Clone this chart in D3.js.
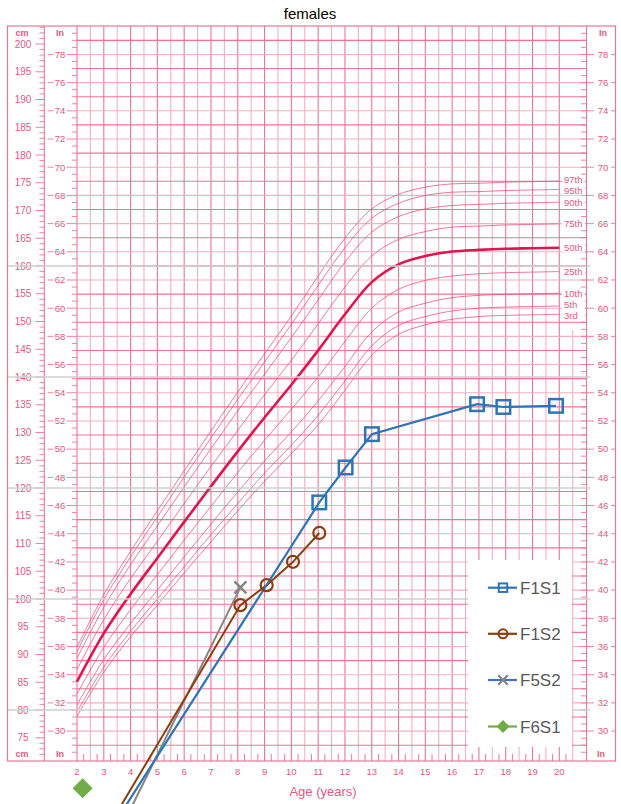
<!DOCTYPE html>
<html>
<head>
<meta charset="utf-8">
<script src="https://cdn.jsdelivr.net/npm/d3@7"></script>
<style>
  body { margin: 0; background: #fff; }
  svg { display: block; }
  text { font-family: "Liberation Sans", Arial, sans-serif; }
</style>
</head>
<body>
<svg id="chart" width="621" height="804"></svg>
<script>
// ---- Stature-for-age percentiles, girls 2 to 20 years (cm) ----
const ages = [2, 3, 4, 5, 6, 7, 8, 9, 10, 11, 12, 13, 14, 15, 16, 17, 18, 19, 20];
const p3  = [78.9, 86.8, 93.2, 98.9, 104.7, 110.3, 115.9, 121.2, 126.2, 131.4, 137.6, 143.9, 147.7, 149.4, 150.4, 150.9, 151.1, 151.2, 151.3];
const p5  = [79.7, 87.7, 94.2, 100.0, 105.8, 111.6, 117.2, 122.7, 127.7, 133.1, 139.3, 145.6, 149.3, 150.9, 151.9, 152.4, 152.6, 152.7, 152.8];
const p10 = [80.9, 89.1, 95.6, 101.6, 107.6, 113.5, 119.3, 124.9, 130.1, 135.7, 141.9, 148.1, 151.7, 153.3, 154.3, 154.7, 154.9, 155.0, 155.1];
const p25 = [82.9, 91.3, 98.1, 104.4, 110.6, 116.7, 122.8, 128.6, 134.2, 140.0, 146.4, 152.4, 155.8, 157.4, 158.2, 158.6, 158.8, 158.9, 159.0];
const p50 = [85.1, 93.8, 100.9, 107.4, 113.9, 120.3, 126.6, 132.7, 138.6, 144.8, 151.3, 157.1, 160.3, 161.8, 162.6, 162.9, 163.1, 163.2, 163.3];
const p75 = [87.3, 96.3, 103.7, 110.4, 117.2, 123.9, 130.4, 136.8, 143.0, 149.6, 156.2, 161.8, 164.8, 166.2, 167.0, 167.2, 167.4, 167.5, 167.6];
const p90 = [89.3, 98.5, 106.2, 113.2, 120.2, 127.1, 133.9, 140.5, 147.1, 153.9, 160.7, 166.1, 168.9, 170.3, 170.9, 171.1, 171.3, 171.4, 171.5];
const p95 = [90.5, 99.9, 107.6, 114.8, 122.0, 129.0, 136.0, 142.7, 149.5, 156.5, 163.3, 168.6, 171.3, 172.7, 173.3, 173.4, 173.6, 173.7, 173.8];
const p97 = [91.3, 100.8, 108.6, 115.9, 123.1, 130.3, 137.3, 144.2, 151.0, 158.2, 165.0, 170.3, 172.9, 174.2, 174.8, 174.9, 175.1, 175.2, 175.3];
const percentileNames = ["3rd", "5th", "10th", "25th", "50th", "75th", "90th", "95th", "97th"];
const percentileSeries = [p3, p5, p10, p25, p50, p75, p90, p95, p97];

// ---- Axis tick labels ----
const ageLabels = [2, 3, 4, 5, 6, 7, 8, 9, 10, 11, 12, 13, 14, 15, 16, 17, 18, 19, 20];
const cmLabels = [75, 80, 85, 90, 95, 100, 105, 110, 115, 120, 125, 130, 135, 140, 145, 150, 155, 160, 165, 170, 175, 180, 185, 190, 195, 200];
const inLabels = [30, 32, 34, 36, 38, 40, 42, 44, 46, 48, 50, 52, 54, 56, 58, 60, 62, 64, 66, 68, 70, 72, 74, 76, 78];
const gridCmLines = [80, 100, 120, 140, 160];

// ---- Measured heights (age in years, height in cm) ----
const f1s1Age = [3, 11, 12, 13, 17, 18, 20];
const f1s1Cm  = [58.0, 117.4, 123.7, 129.7, 135.1, 134.6, 134.8];
const f1s2Age = [3, 8, 9, 10, 11];
const f1s2Cm  = [59.1, 98.9, 102.5, 106.7, 111.9];
const f5s2Age = [3, 8];
const f5s2Cm  = [54.3, 102.1];
const f6s1Age = [2];
const f6s1Cm  = [65.9];

const seriesNames = ["F1S1", "F1S2", "F5S2", "F6S1"];

// ---- Scales ----
const svg = d3.select("#chart");
const yCm = d3.scaleLinear().domain([200, 75]).range([44, 737.75]);
const yIn = v => yCm(v * 2.54);
const xAge = d3.scaleLinear().domain([2, 20]).range([77, 559.3]);
const xData = d3.scaleLinear().domain([2, 20]).range([82.6, 556]);

const PINK_D = "#ef7596";
const PINK_L = "#f6afc1";
const LABEL = "#e4587e";
const gridTop = 26, gridBottom = 761, axisR = 586.5;

svg.append("rect").attr("width", 621).attr("height", 804).attr("fill", "#fff");

// ---- Background grid ----
const grid = svg.append("g");
const halfYears = d3.range(2, 20.51, 0.5);
grid.selectAll("line.v").data(halfYears).join("line")
  .attr("x1", d => xAge(d)).attr("x2", d => xAge(d))
  .attr("y1", d => d > 20 ? 330 : gridTop).attr("y2", gridBottom)
  .attr("stroke", d => Number.isInteger(d) ? PINK_D : PINK_L)
  .attr("stroke-width", 1.1);

const inchLines = d3.range(29, 80);
grid.selectAll("line.h").data(inchLines).join("line")
  .attr("x1", xAge(2)).attr("x2", axisR)
  .attr("y1", d => yIn(d)).attr("y2", d => yIn(d))
  .attr("stroke", d => d % 2 ? PINK_D : PINK_L)
  .attr("stroke-width", 1.1);

// quarter-year ticks along the bottom
grid.selectAll("line.q").data(d3.range(2.25, 20.5, 0.5)).join("line")
  .attr("x1", d => xAge(d)).attr("x2", d => xAge(d))
  .attr("y1", 754).attr("y2", gridBottom)
  .attr("stroke", PINK_D).attr("stroke-width", 1);

// ---- Left cm axis ----
const left = svg.append("g");
left.append("line").attr("x1", 44.3).attr("x2", 44.3).attr("y1", gridTop).attr("y2", gridBottom)
  .attr("stroke", PINK_D).attr("stroke-width", 1.1);
left.selectAll("line.cm").data(d3.range(72, 204)).join("line")
  .attr("x1", d => d % 5 === 0 ? 35.5 : 39.5).attr("x2", 44.3)
  .attr("y1", d => yCm(d)).attr("y2", d => yCm(d))
  .attr("stroke", PINK_D).attr("stroke-width", 0.9);
left.selectAll("text.cm").data(cmLabels).join("text")
  .attr("x", 23).attr("y", d => yCm(d)).attr("dy", "0.35em")
  .attr("text-anchor", "middle").attr("font-size", 10).attr("fill", LABEL)
  .text(d => d);

// inch column next to it
left.selectAll("line.hin").data(d3.range(28.5, 80, 0.5)).join("line")
  .attr("x1", 72).attr("x2", 77)
  .attr("y1", d => yIn(d)).attr("y2", d => yIn(d))
  .attr("stroke", PINK_D).attr("stroke-width", 0.9);
inLabels.forEach(v => {
  left.append("line").attr("x1", 47.5).attr("x2", 53.5).attr("y1", yIn(v)).attr("y2", yIn(v))
    .attr("stroke", PINK_D).attr("stroke-width", 0.9);
  left.append("line").attr("x1", 66.5).attr("x2", 72).attr("y1", yIn(v)).attr("y2", yIn(v))
    .attr("stroke", PINK_D).attr("stroke-width", 0.9);
});
left.selectAll("text.in").data(inLabels).join("text")
  .attr("x", 60).attr("y", d => yIn(d)).attr("dy", "0.35em")
  .attr("text-anchor", "middle").attr("font-size", 9.5).attr("fill", LABEL)
  .text(d => d);

// ---- Right inch axis ----
const right = svg.append("g");
right.append("line").attr("x1", axisR).attr("x2", axisR).attr("y1", gridTop).attr("y2", gridBottom)
  .attr("stroke", PINK_D).attr("stroke-width", 1.1);
right.selectAll("line.hin").data(d3.range(28.5, 80, 0.5)).join("line")
  .attr("x1", 581).attr("x2", axisR)
  .attr("y1", d => yIn(d)).attr("y2", d => yIn(d))
  .attr("stroke", PINK_D).attr("stroke-width", 0.9);
inLabels.forEach(v => {
  right.append("line").attr("x1", axisR).attr("x2", 594).attr("y1", yIn(v)).attr("y2", yIn(v))
    .attr("stroke", PINK_D).attr("stroke-width", 0.9);
  right.append("line").attr("x1", 611).attr("x2", 615.5).attr("y1", yIn(v)).attr("y2", yIn(v))
    .attr("stroke", PINK_D).attr("stroke-width", 0.9);
});
right.selectAll("text.in").data(inLabels).join("text")
  .attr("x", 603).attr("y", d => yIn(d)).attr("dy", "0.35em")
  .attr("text-anchor", "middle").attr("font-size", 9.5).attr("fill", LABEL)
  .text(d => d);

// unit captions
[["cm", 22, 33], ["In", 60, 33], ["In", 603, 33], ["cm", 22, 754], ["In", 60, 754], ["In", 601, 754]]
  .forEach(([t, x, y]) => svg.append("text").attr("x", x).attr("y", y).attr("dy", "0.35em")
    .attr("text-anchor", "middle").attr("font-size", 9).attr("font-weight", "bold")
    .attr("fill", LABEL).text(t));

// ---- Age axis labels ----
svg.selectAll("text.age").data(ageLabels).join("text")
  .attr("x", d => xAge(d)).attr("y", 772).attr("dy", "0.35em")
  .attr("text-anchor", "middle").attr("font-size", 9.5).attr("fill", LABEL)
  .text(d => d);
svg.append("text").attr("x", 323).attr("y", 791).attr("dy", "0.35em")
  .attr("text-anchor", "middle").attr("font-size", 13).attr("fill", LABEL)
  .text("Age (years)");

// ---- Percentile curves ----
const curve = d3.line().x((d, i) => xAge(ages[i])).y(d => yCm(d)).curve(d3.curveCatmullRom.alpha(0.5));
const pct = svg.append("g");
percentileSeries.forEach((s, k) => {
  const main = percentileNames[k] === "50th";
  pct.append("path").attr("d", curve(s)).attr("fill", "none")
    .attr("stroke", main ? "#e0144f" : "#e54673")
    .attr("stroke-opacity", main ? 1 : 0.8)
    .attr("stroke-width", main ? 2.6 : 0.9);
});

// end labels, spread apart where the curves run close together
const labelPos = percentileSeries.map(s => yCm(s[s.length - 1]));
for (let pass = 0; pass < 20; pass++) {
  for (let k = 1; k < labelPos.length; k++) {
    const gap = labelPos[k - 1] - labelPos[k];
    if (gap < 10.8) {
      const push = (10.8 - gap) / 2;
      labelPos[k - 1] += push;
      labelPos[k] -= push;
    }
  }
}
percentileNames.forEach((name, k) => {
  const y = labelPos[k];
  pct.append("rect").attr("x", 562).attr("y", y - 4.6).attr("width", 23).attr("height", 9.2).attr("fill", "#fff");
  pct.append("text").attr("x", 564).attr("y", y).attr("dy", "0.35em")
    .attr("font-size", 9.5).attr("fill", LABEL).text(name);
});

// ---- Frame ----
svg.append("rect").attr("x", 7.5).attr("y", gridTop).attr("width", 608).attr("height", gridBottom - gridTop)
  .attr("fill", "none").attr("stroke", PINK_D).attr("stroke-width", 1.2);

// ---- Overlay gridlines ----
svg.selectAll("line.xl").data(gridCmLines).join("line")
  .attr("x1", 8).attr("x2", 590)
  .attr("y1", d => yCm(d)).attr("y2", d => yCm(d))
  .attr("stroke", "#cfcfcf").attr("stroke-width", 1.3);

// ---- Measured series ----
const dataLine = d3.line().x(d => xData(d[0])).y(d => yCm(d[1]));
const zip = (a, b) => a.map((v, i) => [v, b[i]]);
const s1 = zip(f1s1Age, f1s1Cm), s2 = zip(f1s2Age, f1s2Cm), s3 = zip(f5s2Age, f5s2Cm), s4 = zip(f6s1Age, f6s1Cm);
const BLUE = "#2e75b6", BROWN = "#8a3f0f", GREY = "#858585", GREEN = "#70ad47", BLUE2 = "#4472c4";

const data = svg.append("g");
data.append("path").attr("d", dataLine(s3)).attr("fill", "none").attr("stroke", GREY).attr("stroke-width", 2);
data.append("path").attr("d", dataLine(s2)).attr("fill", "none").attr("stroke", BROWN).attr("stroke-width", 2);
data.append("path").attr("d", dataLine(s1)).attr("fill", "none").attr("stroke", BLUE).attr("stroke-width", 2.2);

function square(g, x, y, s, sw) {
  g.append("rect").attr("x", x - s / 2).attr("y", y - s / 2).attr("width", s).attr("height", s)
    .attr("fill", "none").attr("stroke", BLUE).attr("stroke-width", sw);
}
function ring(g, x, y, r, sw) {
  g.append("circle").attr("cx", x).attr("cy", y).attr("r", r)
    .attr("fill", "none").attr("stroke", BROWN).attr("stroke-width", sw);
}
function cross(g, x, y, h, sw) {
  g.append("path").attr("d", `M${x - h},${y - h}L${x + h},${y + h}M${x - h},${y + h}L${x + h},${y - h}`)
    .attr("stroke", GREY).attr("stroke-width", sw).attr("fill", "none");
}
function diamond(g, x, y, h) {
  g.append("path").attr("d", `M${x},${y - h}L${x + h},${y}L${x},${y + h}L${x - h},${y}Z`).attr("fill", GREEN);
}
s1.forEach(d => square(data, xData(d[0]), yCm(d[1]), 13.5, 2.5));
s2.forEach(d => ring(data, xData(d[0]), yCm(d[1]), 6, 2.2));
s3.forEach(d => cross(data, xData(d[0]), yCm(d[1]), 6, 2.5));
s4.forEach(d => diamond(data, xData(d[0]), yCm(d[1]), 10));

// ---- Legend ----
const legend = svg.append("g");
legend.append("rect").attr("x", 468).attr("y", 560).attr("width", 104).attr("height", 187).attr("fill", "#fff");
const legendY = [587.7, 633.8, 680, 726.5];
const legendLine = [BLUE, BROWN, BLUE2, GREEN];
seriesNames.forEach((name, i) => {
  const y = legendY[i];
  legend.append("line").attr("x1", 488).attr("x2", 517).attr("y1", y).attr("y2", y)
    .attr("stroke", legendLine[i]).attr("stroke-width", 2.2);
  if (i === 0) square(legend, 503, y, 8.5, 2);
  if (i === 1) ring(legend, 503, y, 4.5, 2);
  if (i === 2) cross(legend, 503, y, 4.8, 2.3);
  if (i === 3) diamond(legend, 503, y, 6.5);
  legend.append("text").attr("x", 520).attr("y", y).attr("dy", "0.36em")
    .attr("font-size", 17).attr("fill", "#595959").text(name);
});

// ---- Title ----
svg.append("text").attr("x", 310).attr("y", 19).attr("text-anchor", "middle")
  .attr("font-size", 15).attr("fill", "#000").text("females");
</script>
</body>
</html>
